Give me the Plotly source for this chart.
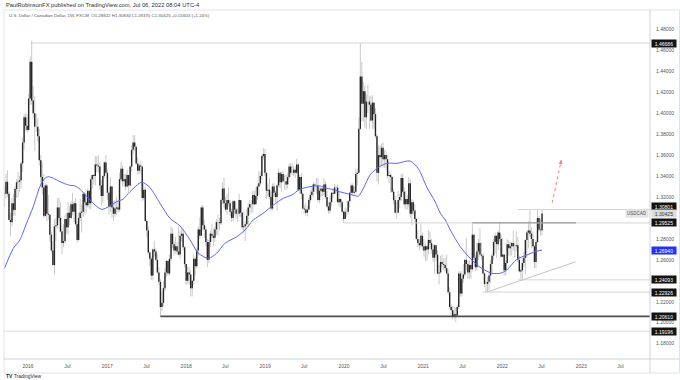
import pandas as pd
import plotly.graph_objects as go

# ---------------- data ----------------
first_week = "2015-09-14"
first_open = 1.3235

closes = [
    # 2015
    1.3230, 1.3345, 1.3230, 1.2980, 1.2960, 1.3140, 1.3075, 1.3275, 1.3340, 1.3345, 1.3360, 1.3520, 1.3720, 1.3960, 1.3880, 1.3840,
    # 2016
    1.4140, 1.4490, 1.4120, 1.4000, 1.3870, 1.3870, 1.3780, 1.3550, 1.3390, 1.3290, 1.3020, 1.3310, 1.3040,
    1.3030, 1.2840, 1.2690, 1.2550, 1.2920, 1.2930, 1.3100, 1.3000, 1.2870, 1.2760, 1.2780, 1.2990, 1.2910,
    1.3050, 1.3000, 1.3130, 1.3060, 1.3140, 1.2940, 1.2790, 1.3000, 1.3050, 1.3060, 1.3230, 1.3150, 1.3120,
    1.3260, 1.3140, 1.3370, 1.3410, 1.3400, 1.3510, 1.3500, 1.3490, 1.3310, 1.3210, 1.3400, 1.3530, 1.3430,
    # 2017
    1.3240, 1.3110, 1.3300, 1.3100, 1.3040, 1.3090, 1.3100, 1.3080, 1.3370, 1.3470, 1.3350, 1.3370, 1.3300,
    1.3410, 1.3310, 1.3490, 1.3650, 1.3720, 1.3680, 1.3520, 1.3450, 1.3500, 1.3490, 1.3190, 1.3270, 1.2970,
    1.2880, 1.2670, 1.2610, 1.2450, 1.2700, 1.2680, 1.2600, 1.2480, 1.2390, 1.2150, 1.2190, 1.2330, 1.2480,
    1.2590, 1.2470, 1.2610, 1.2850, 1.2750, 1.2690, 1.2730, 1.2680, 1.2650, 1.2830, 1.2850, 1.2720, 1.2560,
    # 2018
    1.2400, 1.2480, 1.2460, 1.2330, 1.2400, 1.2610, 1.2540, 1.2690, 1.2890, 1.2830, 1.3100, 1.2930, 1.2890,
    1.2770, 1.2600, 1.2770, 1.2850, 1.2830, 1.2810, 1.2890, 1.2960, 1.2960, 1.2950, 1.3170, 1.3280, 1.3140,
    1.3080, 1.3170, 1.3140, 1.3060, 1.3000, 1.3160, 1.3080, 1.3040, 1.3040, 1.3170, 1.3050, 1.2910, 1.2920,
    1.2940, 1.3020, 1.3100, 1.3130, 1.3130, 1.3220, 1.3130, 1.3210, 1.3300, 1.3330, 1.3400, 1.3590, 1.3610,
    # 2019
    1.3430, 1.3260, 1.3270, 1.3200, 1.3090, 1.3300, 1.3240, 1.3200, 1.3310, 1.3430, 1.3340, 1.3420, 1.3350,
    1.3350, 1.3320, 1.3390, 1.3490, 1.3430, 1.3430, 1.3460, 1.3430, 1.3510, 1.3270, 1.3390, 1.3230, 1.3090,
    1.3080, 1.3050, 1.3080, 1.3170, 1.3220, 1.3250, 1.3320, 1.3310, 1.3310, 1.3170, 1.3260, 1.3280, 1.3250, 1.3320,
    1.3200, 1.3110, 1.3070, 1.3150, 1.3240, 1.3230, 1.3290, 1.3290, 1.3150, 1.3180, 1.3150, 1.3060,
    # 2020
    1.2990, 1.3060, 1.3060, 1.3160, 1.3240, 1.3310, 1.3240, 1.3250, 1.3420, 1.3430, 1.3850, 1.4350, 1.4090, 1.4210,
    1.3960, 1.4110, 1.4110, 1.4080, 1.3930, 1.4100, 1.3990, 1.3780, 1.3430, 1.3600, 1.3580, 1.3670, 1.3560,
    1.3600, 1.3560, 1.3400, 1.3410, 1.3390, 1.3250, 1.3170, 1.3050, 1.3050, 1.3170, 1.3200, 1.3380, 1.3250,
    1.3130, 1.3180, 1.3130, 1.3330, 1.3040, 1.3150, 1.3070, 1.2990, 1.2800, 1.2760, 1.2740, 1.2830, 1.2730,
    # 2021
    1.2690, 1.2730, 1.2700, 1.2790, 1.2760, 1.2700, 1.2620, 1.2740, 1.2650, 1.2470, 1.2480, 1.2580, 1.2560,
    1.2550, 1.2520, 1.2470, 1.2290, 1.2150, 1.2120, 1.2060, 1.2080, 1.2070, 1.2150, 1.2470, 1.2280, 1.2420,
    1.2460, 1.2600, 1.2560, 1.2480, 1.2550, 1.2510, 1.2840, 1.2620, 1.2530, 1.2680, 1.2760, 1.2650, 1.2640,
    1.2470, 1.2370, 1.2370, 1.2390, 1.2450, 1.2560, 1.2640, 1.2770, 1.2830, 1.2750, 1.2860, 1.2800, 1.2630,
    # 2022
    1.2650, 1.2500, 1.2570, 1.2750, 1.2710, 1.2730, 1.2760, 1.2730, 1.2730, 1.2740, 1.2600, 1.2490, 1.2500,
    1.2570, 1.2620, 1.2790, 1.2860, 1.2880, 1.2850, 1.2800, 1.2730, 1.2580, 1.2770, 1.3000, 1.2890, 1.28822,
    1.30425,
]

highs = [
    # 2015
    1.3300, 1.3420, 1.3455, 1.3250, 1.3050, 1.3190, 1.3230, 1.3300, 1.3370, 1.3440, 1.3400, 1.3540, 1.3760, 1.3990, 1.4000, 1.3990,
    # 2016
    1.4180, 1.4540, 1.4690, 1.4260, 1.4160, 1.3990, 1.3950, 1.3850, 1.3600, 1.3530, 1.3420, 1.3330, 1.3330,
    1.3220, 1.3040, 1.2870, 1.2780, 1.2990, 1.3000, 1.3190, 1.3190, 1.3150, 1.2900, 1.2940, 1.3030, 1.3050,
    1.3150, 1.3110, 1.3160, 1.3240, 1.3160, 1.3190, 1.2970, 1.3050, 1.3180, 1.3130, 1.3250, 1.3250, 1.3240,
    1.3280, 1.3260, 1.3390, 1.3410, 1.3420, 1.3590, 1.3590, 1.3600, 1.3530, 1.3360, 1.3410, 1.3540, 1.3600,
    # 2017
    1.3460, 1.3240, 1.3390, 1.3310, 1.3160, 1.3170, 1.3200, 1.3160, 1.3430, 1.3530, 1.3500, 1.3420, 1.3420,
    1.3460, 1.3410, 1.3500, 1.3690, 1.3790, 1.3790, 1.3690, 1.3580, 1.3520, 1.3540, 1.3490, 1.3330, 1.3290,
    1.2990, 1.2920, 1.2680, 1.2630, 1.2710, 1.2780, 1.2710, 1.2660, 1.2530, 1.2420, 1.2300, 1.2400, 1.2520,
    1.2600, 1.2600, 1.2650, 1.2920, 1.2900, 1.2770, 1.2820, 1.2770, 1.2920, 1.2880, 1.2900, 1.2900, 1.2730,
    # 2018
    1.2560, 1.2540, 1.2530, 1.2500, 1.2410, 1.2650, 1.2630, 1.2720, 1.2920, 1.3000, 1.3120, 1.3125, 1.2980,
    1.2920, 1.2800, 1.2790, 1.2880, 1.2940, 1.2900, 1.2920, 1.2990, 1.3030, 1.3000, 1.3180, 1.3340, 1.3385,
    1.3200, 1.3230, 1.3290, 1.3170, 1.3090, 1.3170, 1.3170, 1.3090, 1.3090, 1.3230, 1.3170, 1.3060, 1.3060,
    1.2970, 1.3080, 1.3140, 1.3170, 1.3170, 1.3260, 1.3260, 1.3290, 1.3320, 1.3450, 1.3440, 1.3600, 1.3665,
    # 2019
    1.3660, 1.3440, 1.3330, 1.3380, 1.3250, 1.3330, 1.3330, 1.3260, 1.3320, 1.3470, 1.3440, 1.3440, 1.3450,
    1.3410, 1.3410, 1.3430, 1.3520, 1.3520, 1.3520, 1.3500, 1.3490, 1.3565, 1.3520, 1.3410, 1.3430, 1.3250,
    1.3120, 1.3140, 1.3110, 1.3190, 1.3270, 1.3290, 1.3340, 1.3330, 1.3380, 1.3380, 1.3290, 1.3290, 1.3290, 1.3380,
    1.3350, 1.3260, 1.3150, 1.3210, 1.3250, 1.3280, 1.3320, 1.3310, 1.3320, 1.3250, 1.3190, 1.3160,
    # 2020
    1.3070, 1.3100, 1.3090, 1.3170, 1.3250, 1.3330, 1.3330, 1.3300, 1.3470, 1.3470, 1.3960, 1.4667, 1.4490, 1.4300,
    1.4260, 1.4180, 1.4270, 1.4160, 1.4170, 1.4170, 1.4110, 1.4050, 1.3800, 1.3690, 1.3690, 1.3710, 1.3720,
    1.3650, 1.3640, 1.3600, 1.3450, 1.3430, 1.3400, 1.3280, 1.3210, 1.3150, 1.3260, 1.3230, 1.3420, 1.3420,
    1.3290, 1.3260, 1.3220, 1.3390, 1.3370, 1.3180, 1.3170, 1.3130, 1.3000, 1.2880, 1.2800, 1.2950, 1.2860,
    # 2021
    1.2800, 1.2760, 1.2740, 1.2880, 1.2870, 1.2800, 1.2750, 1.2750, 1.2740, 1.2690, 1.2550, 1.2640, 1.2650,
    1.2610, 1.2620, 1.2650, 1.2510, 1.2340, 1.2180, 1.2160, 1.2150, 1.2140, 1.2170, 1.2490, 1.2490, 1.2490,
    1.2560, 1.2600, 1.2810, 1.2590, 1.2600, 1.2560, 1.2949, 1.2850, 1.2650, 1.2760, 1.2800, 1.2900, 1.2770,
    1.2660, 1.2480, 1.2400, 1.2440, 1.2490, 1.2600, 1.2660, 1.2800, 1.2860, 1.2830, 1.2880, 1.2965, 1.2840,
    # 2022
    1.2810, 1.2650, 1.2600, 1.2797, 1.2790, 1.2770, 1.2770, 1.2880, 1.2760, 1.2870, 1.2820, 1.2640, 1.2520,
    1.2620, 1.2680, 1.2790, 1.2880, 1.2970, 1.3077, 1.2910, 1.2870, 1.2740, 1.2790, 1.3079, 1.3020, 1.2990,
    1.30834,
]

lows = [
    # 2015
    1.3105, 1.3180, 1.3200, 1.2980, 1.2830, 1.2920, 1.3020, 1.3020, 1.3190, 1.3200, 1.3250, 1.3280, 1.3440, 1.3650, 1.3830, 1.3810,
    # 2016
    1.3830, 1.4080, 1.4080, 1.3950, 1.3640, 1.3820, 1.3730, 1.3500, 1.3310, 1.3220, 1.3000, 1.3010, 1.2970,
    1.2980, 1.2770, 1.2670, 1.2540, 1.2460, 1.2780, 1.2900, 1.2970, 1.2860, 1.2650, 1.2720, 1.2760, 1.2850,
    1.2840, 1.2930, 1.2990, 1.3030, 1.2960, 1.2930, 1.2760, 1.2780, 1.2970, 1.2860, 1.3010, 1.3030, 1.3050,
    1.3100, 1.3090, 1.3080, 1.3280, 1.3320, 1.3310, 1.3440, 1.3430, 1.3270, 1.3120, 1.3140, 1.3380, 1.3420,
    # 2017
    1.3170, 1.3030, 1.3060, 1.3000, 1.2970, 1.3010, 1.3030, 1.3050, 1.3060, 1.3350, 1.3300, 1.3300, 1.3260,
    1.3290, 1.3250, 1.3300, 1.3440, 1.3610, 1.3640, 1.3510, 1.3410, 1.3420, 1.3430, 1.3160, 1.3170, 1.2960,
    1.2820, 1.2650, 1.2540, 1.2410, 1.2410, 1.2630, 1.2590, 1.2470, 1.2360, 1.2060, 1.2110, 1.2160, 1.2300,
    1.2440, 1.2450, 1.2450, 1.2590, 1.2710, 1.2640, 1.2660, 1.2650, 1.2640, 1.2610, 1.2770, 1.2690, 1.2530,
    # 2018
    1.2360, 1.2370, 1.2360, 1.2250, 1.2250, 1.2360, 1.2450, 1.2520, 1.2640, 1.2800, 1.2870, 1.2880, 1.2810,
    1.2730, 1.2530, 1.2570, 1.2720, 1.2780, 1.2730, 1.2770, 1.2840, 1.2830, 1.2880, 1.2930, 1.3130, 1.3100,
    1.3060, 1.3030, 1.3110, 1.3020, 1.2960, 1.2970, 1.3030, 1.2990, 1.2960, 1.3010, 1.3010, 1.2890, 1.2860,
    1.2780, 1.2920, 1.2930, 1.3030, 1.3050, 1.3050, 1.3120, 1.3130, 1.3170, 1.3220, 1.3310, 1.3370, 1.3560,
    # 2019
    1.3400, 1.3180, 1.3210, 1.3180, 1.3070, 1.3070, 1.3210, 1.3150, 1.3070, 1.3290, 1.3280, 1.3250, 1.3340,
    1.3270, 1.3270, 1.3280, 1.3370, 1.3390, 1.3410, 1.3400, 1.3380, 1.3420, 1.3260, 1.3230, 1.3180, 1.3080,
    1.3040, 1.3020, 1.3015, 1.3060, 1.3140, 1.3170, 1.3200, 1.3250, 1.3230, 1.3150, 1.3140, 1.3200, 1.3210, 1.3220,
    1.3180, 1.3100, 1.3040, 1.3040, 1.3110, 1.3190, 1.3230, 1.3240, 1.3140, 1.3110, 1.3100, 1.3040,
    # 2020
    1.2952, 1.2990, 1.3010, 1.3030, 1.3100, 1.3220, 1.3220, 1.3210, 1.3230, 1.3310, 1.3420, 1.3840, 1.3920, 1.3920,
    1.3860, 1.3850, 1.4000, 1.3850, 1.3920, 1.3850, 1.3850, 1.3760, 1.3350, 1.3320, 1.3480, 1.3500, 1.3480,
    1.3480, 1.3460, 1.3380, 1.3330, 1.3240, 1.3240, 1.3130, 1.3040, 1.2995, 1.3050, 1.3090, 1.3160, 1.3230,
    1.3100, 1.3080, 1.3080, 1.3100, 1.3000, 1.2930, 1.3030, 1.2960, 1.2790, 1.2720, 1.2690, 1.2720, 1.2690,
    # 2021
    1.2630, 1.2590, 1.2590, 1.2650, 1.2740, 1.2660, 1.2580, 1.2470, 1.2590, 1.2460, 1.2365, 1.2470, 1.2530,
    1.2500, 1.2490, 1.2460, 1.2270, 1.2130, 1.2050, 1.2030, 1.2040, 1.2007, 1.2060, 1.2130, 1.2250, 1.2250,
    1.2380, 1.2440, 1.2500, 1.2420, 1.2420, 1.2420, 1.2490, 1.2600, 1.2490, 1.2500, 1.2600, 1.2630, 1.2600,
    1.2460, 1.2340, 1.2288, 1.2300, 1.2310, 1.2380, 1.2480, 1.2600, 1.2660, 1.2620, 1.2690, 1.2780, 1.2620,
    # 2022
    1.2630, 1.2450, 1.2450, 1.2560, 1.2640, 1.2640, 1.2640, 1.2690, 1.2620, 1.2680, 1.2580, 1.2480, 1.2420,
    1.2403, 1.2530, 1.2460, 1.2620, 1.2710, 1.2820, 1.2710, 1.2720, 1.2520, 1.2520, 1.2760, 1.2870, 1.2830,
    1.28370,
]

# moving average
ma_dates = [
    "2015-09-14", "2015-10-25", "2015-11-24", "2015-12-25", "2016-01-25", "2016-02-25", "2016-03-19",
    "2016-04-03", "2016-04-27", "2016-05-28", "2016-07-06", "2016-08-06", "2016-08-29", "2016-09-29",
    "2016-11-06", "2016-12-07", "2017-01-14", "2017-02-14", "2017-03-16", "2017-04-16", "2017-06-10",
    "2017-07-17", "2017-09-02", "2017-10-18", "2017-12-03", "2018-01-19", "2018-02-27", "2018-04-13",
    "2018-05-22", "2018-06-29", "2018-08-23", "2018-09-30", "2018-11-07", "2018-12-23", "2019-02-08",
    "2019-03-26", "2019-05-04", "2019-06-11", "2019-07-27", "2019-09-11", "2019-10-12", "2019-11-19",
    "2019-12-12", "2020-01-28", "2020-03-07", "2020-03-30", "2020-04-30", "2020-06-01", "2020-07-17",
    "2020-09-02", "2020-11-01", "2020-12-09", "2021-01-18", "2021-02-25", "2021-03-21", "2021-04-13",
    "2021-05-06", "2021-06-21", "2021-08-06", "2021-09-21", "2021-11-14", "2021-12-22", "2022-01-22",
    "2022-03-09", "2022-04-25", "2022-06-03", "2022-07-04",
]
ma_values = [
    1.2519, 1.2710, 1.2789, 1.2949, 1.3107, 1.3298, 1.3378,
    1.3394, 1.3378, 1.3346, 1.3314, 1.3305, 1.3273, 1.3203,
    1.3123, 1.3082, 1.3115, 1.3155, 1.3180, 1.3250, 1.3340,
    1.3290, 1.3140, 1.2997, 1.2925, 1.2790, 1.2663, 1.2615,
    1.2663, 1.2758, 1.2821, 1.2885, 1.2980, 1.3044, 1.3123,
    1.3187, 1.3219, 1.3273, 1.3298, 1.3305, 1.3283, 1.3267,
    1.3250, 1.3226, 1.3209, 1.3283, 1.3410, 1.3474, 1.3521,
    1.3521, 1.3543, 1.3470, 1.3290, 1.3155, 1.3044, 1.2980,
    1.2885, 1.2726, 1.2615, 1.2529, 1.2472, 1.2472, 1.2503,
    1.2605, 1.2646, 1.2678, 1.2694,
]

# horizontal levels drawn on the chart
level_prices = [1.46686, 1.30801, 1.29525, 1.24093, 1.22926, 1.20610, 1.19196]
level_starts = ["2016-01-18", "2022-03-14", "2019-12-30", "2022-03-14", "2021-10-04", "2017-09-04", "2015-09-01"]

neck_price = 1.2953
neck_dates = ["2021-08-16", "2022-12-08"]

trend_dates = ["2021-10-22", "2022-12-07"]
trend_prices = [1.2293, 1.2582]

arrow_dates = ["2022-08-20", "2022-10-01"]
arrow_prices = [1.3145, 1.3553]

price_ticks = [1.18, 1.20, 1.22, 1.26, 1.28, 1.32, 1.34, 1.36, 1.38, 1.40, 1.42, 1.44, 1.46, 1.48]
time_ticks = ["2016-01-01", "2016-07-01", "2017-01-01", "2017-07-01", "2018-01-01", "2018-07-01",
              "2019-01-01", "2019-07-01", "2020-01-01", "2020-07-01", "2021-01-01", "2021-07-01",
              "2022-01-01", "2022-07-01", "2023-01-01", "2023-07-01"]
time_labels = ["2016", "Jul", "2017", "Jul", "2018", "Jul", "2019", "Jul",
               "2020", "Jul", "2021", "Jul", "2022", "Jul", "2023", "Jul"]

symbol = "USDCAD"
last_close = 1.30425
ma_last = 1.26940
header_text = "PaulRobinsonFX published on TradingView.com, Jul 06, 2022 08:04 UTC-4"
legend_text = ("U.S. Dollar / Canadian Dollar, 1W, FXCM&nbsp;&nbsp;O1.28822 H1.30834 L1.28370 "
               "C1.30425 +0.01603 (+1.24%)")

# ---------------- layout constants ----------------
W, H = 680, 380
ML, MR, MT, MB = 4, 30, 12, 21        # plot area: x 4..650, y 12..359
X_RANGE = ["2015-09-12", "2023-11-15"]
Y_RANGE = [1.1654, 1.4965]
FONT = "Liberation Sans, Arial, sans-serif"
PW, PH = W - ML - MR, H - MT - MB


def px_x(px):
    return (px - ML) / PW


def px_y(py):
    return (H - MB - py) / PH


n = min(len(closes), len(highs), len(lows))
closes, highs, lows = closes[:n], highs[:n], lows[:n]
dates = pd.date_range(first_week, periods=n, freq="7D")
opens = [first_open] + closes[:-1]   # weekly FX bars open at the previous close

wx, wy, bx, by = [], [], [], []
for d, o, h, l, c in zip(dates, opens, highs, lows, closes):
    wx += [d, d, None]
    wy += [l, h, None]
    bx += [d, d, None]
    by += [o, c, None]

fig = go.Figure()
fig.add_trace(go.Scatter(x=wx, y=wy, mode="lines", line=dict(color="#c9c9c9", width=1),
                         hoverinfo="skip", showlegend=False))
fig.add_trace(go.Scatter(x=bx, y=by, mode="lines", line=dict(color="#262626", width=1.4),
                         hoverinfo="skip", showlegend=False))
fig.add_trace(go.Scatter(x=ma_dates, y=ma_values, mode="lines",
                         line=dict(color="#5a66f0", width=1, shape="spline", smoothing=0.8),
                         hoverinfo="skip", showlegend=False))

level_colors = ["#d4d4d4", "#d4d4d4", "#d4d4d4", "#d4d4d4", "#d4d4d4", "#4d4d4d", "#dadada"]
level_widths = [1, 1, 1, 1, 1, 1.8, 1]
for p, s, col, w in zip(level_prices, level_starts, level_colors, level_widths):
    fig.add_trace(go.Scatter(x=[s, X_RANGE[1]], y=[p, p], mode="lines",
                             line=dict(color=col, width=w), hoverinfo="skip", showlegend=False))

fig.add_trace(go.Scatter(x=neck_dates, y=[neck_price, neck_price], mode="lines",
                         line=dict(color="#8a8a8a", width=1), hoverinfo="skip", showlegend=False))
fig.add_trace(go.Scatter(x=trend_dates, y=trend_prices, mode="lines",
                         line=dict(color="#c4c4c4", width=1), hoverinfo="skip", showlegend=False))
fig.add_trace(go.Scatter(x=arrow_dates, y=arrow_prices, mode="lines",
                         line=dict(color="#ee7d7d", width=1, dash="dot"), hoverinfo="skip", showlegend=False))
fig.add_annotation(x=arrow_dates[1], y=arrow_prices[1], xref="x", yref="y", text="",
                   showarrow=True, arrowhead=2, arrowsize=1, arrowwidth=0.8, arrowcolor="#ee7d7d",
                   ax=-0.6, ay=3)

# ---------------- price labels on the right scale ----------------
def price_box(val, bg, fg, yshift=0, text=None):
    fig.add_annotation(x=1, xref="paper", xanchor="left", xshift=1,
                       y=val, yref="y", yanchor="middle", yshift=yshift,
                       text=text if text is not None else f"{val:.5f}",
                       showarrow=False, bgcolor=bg, borderpad=1, width=22, height=5,
                       font=dict(size=5, color=fg, family=FONT))


label_shifts = [0, 3, 0, 0, 0, 0, 0]
for p, sh in zip(level_prices, label_shifts):
    price_box(p, "#131313", "#ffffff", sh)
price_box(last_close, "#dcdcdc", "#333333")
price_box(ma_last, "#2330f5", "#ffffff")
fig.add_annotation(x=1, xref="paper", xanchor="right", xshift=-1, y=last_close, yref="y",
                   yanchor="middle", text=symbol, showarrow=False, bgcolor="#e3e3e3",
                   borderpad=1, height=5, font=dict(size=4.5, color="#555555", family=FONT))

# ---------------- header / legend / footer ----------------
fig.add_annotation(x=px_x(4), y=px_y(5), xref="paper", yref="paper", xanchor="left", yanchor="middle",
                   text=header_text, showarrow=False, font=dict(size=5.8, color="#2a2e39", family=FONT))
fig.add_annotation(x=px_x(7), y=px_y(16), xref="paper", yref="paper", xanchor="left", yanchor="middle",
                   text=legend_text, showarrow=False, font=dict(size=4.4, color="#555555", family=FONT))
fig.add_annotation(x=px_x(4), y=px_y(376), xref="paper", yref="paper", xanchor="left", yanchor="middle",
                   text="<b>TV</b> TradingView", showarrow=False,
                   font=dict(size=5, color="#2a2e39", family=FONT))

# ---------------- frame ----------------
frame = "#e0e3eb"
fig.add_shape(type="rect", xref="paper", yref="paper", x0=px_x(4), x1=px_x(679.5),
              y0=px_y(373), y1=px_y(10), line=dict(color=frame, width=1))
fig.add_shape(type="line", xref="paper", yref="paper", x0=1, x1=1, y0=px_y(373), y1=px_y(10),
              line=dict(color="#cfd2d9", width=1))
fig.add_shape(type="line", xref="paper", yref="paper", x0=px_x(4), x1=px_x(679.5), y0=0, y1=0,
              line=dict(color="#cfd2d9", width=1))

fig.update_layout(
    width=W, height=H, margin=dict(l=ML, r=MR, t=MT, b=MB),
    paper_bgcolor="#ffffff", plot_bgcolor="#ffffff", showlegend=False, hovermode=False,
    font=dict(family=FONT, size=5, color="#555555"),
    xaxis=dict(type="date", range=X_RANGE, showgrid=False, zeroline=False, showline=False,
               tickvals=time_ticks, ticktext=time_labels, ticks="", ticklabelstandoff=3,
               tickfont=dict(size=5, color="#555555", family=FONT), fixedrange=True),
    yaxis=dict(range=Y_RANGE, side="right", showgrid=False, zeroline=False, showline=False,
               tickvals=price_ticks, ticktext=[f"{v:.5f}" for v in price_ticks], ticks="",
               ticklabelstandoff=5, tickfont=dict(size=5, color="#555555", family=FONT),
               fixedrange=True),
)

fig.write_html(
    "out.html",
    config={"displayModeBar": False},
    post_script="document.body.style.margin='0';document.body.style.padding='0';"
                "document.body.style.overflow='hidden';",
)
